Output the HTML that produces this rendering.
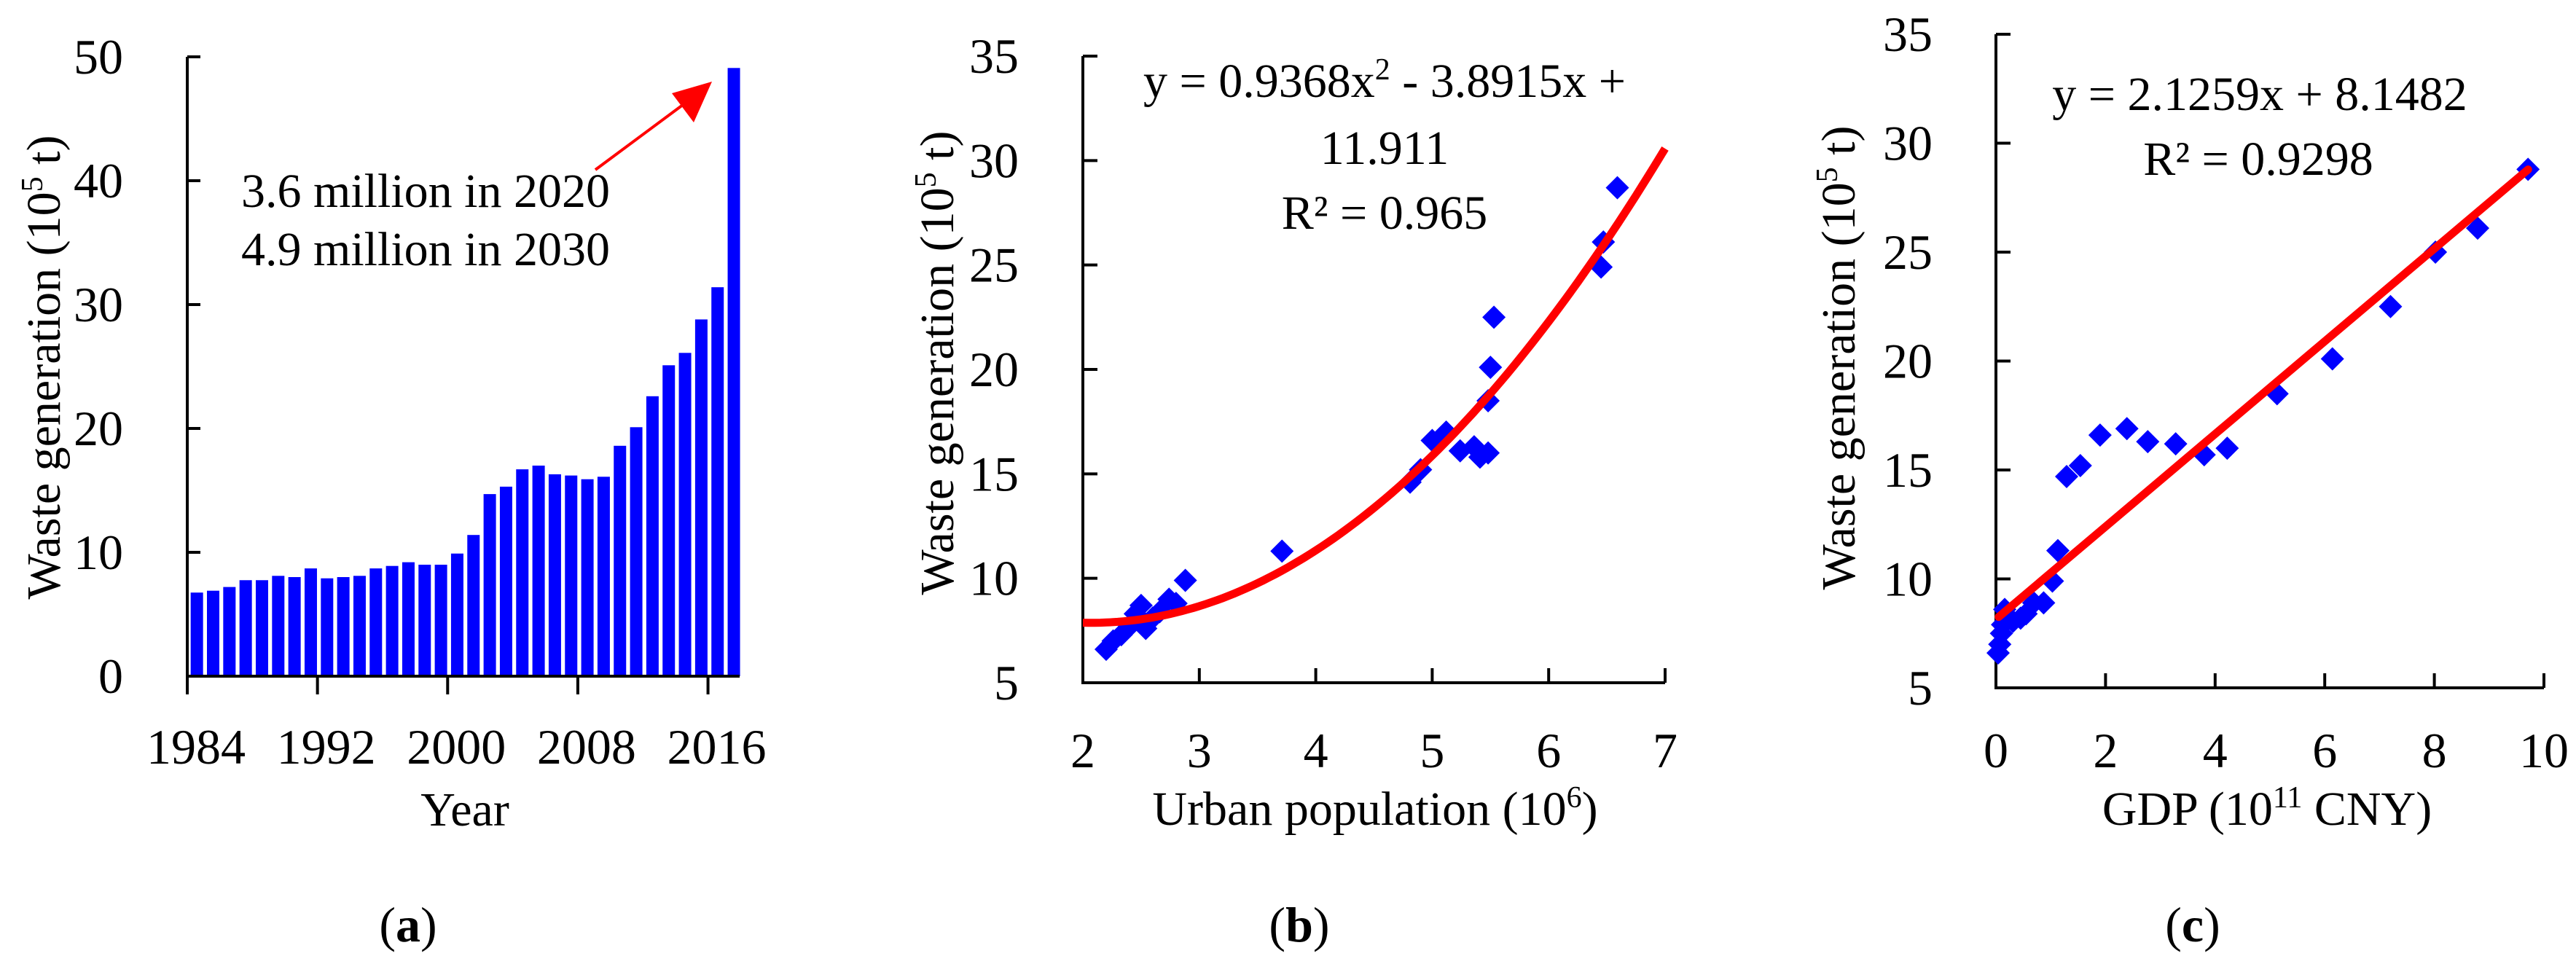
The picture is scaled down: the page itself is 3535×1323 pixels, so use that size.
<!DOCTYPE html>
<html><head><meta charset="utf-8"><style>
html,body{margin:0;padding:0;background:#fff;}
svg{display:block;}
text,tspan{font-family:"Liberation Serif","DejaVu Serif",serif;}
</style></head><body>
<svg id="fig" width="3535" height="1323" viewBox="0 0 3535 1323" xmlns="http://www.w3.org/2000/svg" font-family="Liberation Serif, DejaVu Serif, serif">
<g id="pa"></g>
<g id="pb"></g>
<g id="pc"></g>
<g font-family="Liberation Serif, DejaVu Serif, serif">
<text transform="translate(82,504) rotate(-90)" text-anchor="middle" font-size="66">Waste generation (10<tspan font-size="42" dy="-24">5</tspan><tspan dy="24"> t)</tspan></text>
<text x="331" y="284" font-size="66">3.6 million in 2020</text>
<text x="331" y="364" font-size="66">4.9 million in 2030</text>
<line x1="817" y1="233" x2="945" y2="138" stroke="#ff0000" stroke-width="4"/>
<path d="M977,112 L922,128 L952,168 Z" fill="#ff0000"/>
<text x="638" y="1133" text-anchor="middle" font-size="66">Year</text>
<text x="560" y="1292" text-anchor="middle" font-size="68">(<tspan font-weight="bold">a</tspan>)</text>
<text transform="translate(1308,498) rotate(-90)" text-anchor="middle" font-size="66">Waste generation (10<tspan font-size="42" dy="-24">5</tspan><tspan dy="24"> t)</tspan></text>
<text x="1900" y="133" text-anchor="middle" font-size="66">y = 0.9368x<tspan font-size="42" dy="-24">2</tspan><tspan dy="24"> - 3.8915x +</tspan></text>
<text x="1900" y="225" text-anchor="middle" font-size="66">11.911</text>
<text x="1900" y="314" text-anchor="middle" font-size="66">R² = 0.965</text>
<text x="1887" y="1132" text-anchor="middle" font-size="66">Urban population (10<tspan font-size="42" dy="-24">6</tspan><tspan dy="24">)</tspan></text>
<text x="1783" y="1292" text-anchor="middle" font-size="68">(<tspan font-weight="bold">b</tspan>)</text>
<text transform="translate(2545,491) rotate(-90)" text-anchor="middle" font-size="66">Waste generation (10<tspan font-size="42" dy="-24">5</tspan><tspan dy="24"> t)</tspan></text>
<text x="3101" y="151" text-anchor="middle" font-size="66">y = 2.1259x + 8.1482</text>
<text x="3099" y="240" text-anchor="middle" font-size="66">R² = 0.9298</text>
<text x="3111" y="1132" text-anchor="middle" font-size="66">GDP (10<tspan font-size="42" dy="-24">11</tspan><tspan dy="24"> CNY)</tspan></text>
<text x="3009" y="1292" text-anchor="middle" font-size="68">(<tspan font-weight="bold">c</tspan>)</text>
</g>
</svg>
<script>
// Panel (a) data
const yearsA = [1984,1985,1986,1987,1988,1989,1990,1991,1992,1993,1994,1995,1996,1997,1998,1999,2000,2001,2002,2003,2004,2005,2006,2007,2008,2009,2010,2011,2012,2013,2014,2015,2016,2030];
const wasteA = [6.75,6.9,7.2,7.75,7.75,8.1,8.0,8.7,7.9,8.0,8.1,8.7,8.9,9.2,9.0,9.0,9.9,11.4,14.7,15.3,16.7,17.0,16.3,16.2,15.9,16.1,18.6,20.1,22.6,25.1,26.1,28.8,31.4,49.1];
const ticksA_x = ["1984","1992","2000","2008","2016"];
const ticksA_y = [0,10,20,30,40,50];
// Panel (b) data
const popB = [2.2,2.26,2.33,2.4,2.45,2.5,2.52,2.54,2.6,2.66,2.74,2.8,2.88,3.71,4.81,4.9,5.0,5.12,5.24,5.36,5.41,5.48,5.48,5.5,5.53,6.45,6.47,6.59];
const wasteB = [6.6,7.0,7.3,7.7,8.3,8.7,7.8,7.6,8.1,8.4,9.0,8.8,9.9,11.3,14.6,15.2,16.6,17.0,16.1,16.3,15.8,16.0,18.5,20.1,22.5,24.9,26.1,28.7];
const coefB = [0.9368,-3.8915,11.911];
const ticksB_x = [2,3,4,5,6,7];
const ticksB_y = [5,10,15,20,25,30,35];
// Panel (c) data
const gdpC = [0.04,0.07,0.1,0.12,0.16,0.31,0.45,0.55,0.69,0.87,1.03,1.13,1.29,1.54,1.9,2.39,2.77,3.28,3.8,4.22,5.13,6.14,7.2,8.02,8.79,9.71];
const wasteC = [6.6,7.0,7.5,7.9,8.6,8.05,8.2,8.4,8.9,8.9,9.9,11.3,14.7,15.2,16.6,16.9,16.3,16.2,15.7,16.0,18.5,20.1,22.5,25.0,26.1,28.8];
const coefC = [2.1259,8.1482];
const ticksC_x = [0,2,4,6,8,10];
const ticksC_y = [5,10,15,20,25,30,35];

const NS="http://www.w3.org/2000/svg";
function mk(parent,tag,attrs,text){const e=document.createElementNS(NS,tag);for(const k in attrs)e.setAttribute(k,attrs[k]);if(text!==undefined)e.textContent=text;parent.appendChild(e);return e;}
const FS=68, FF="Liberation Serif, DejaVu Serif, serif";

// ---------- Panel A ----------
(function(){
const g=document.getElementById('pa');
const x0=257,x1=1015,yb=928,yt=78,step=22.33;
const sy=v=>yb-(v-0)/(50-0)*(yb-yt);
wasteA.forEach((v,i)=>{
  const cx=x0+(i+0.5)*step+2;
  const r=mk(g,'rect',{x:cx-8.5,y:sy(v),width:17,height:yb-sy(v),fill:'#0000ff'});
  
  
});
const ax=mk(g,'path',{d:`M${x0},${yt} V${yb} H${x1}`,stroke:'#000','stroke-width':4,fill:'none'});


ticksA_y.forEach(v=>{
  mk(g,'line',{x1:x0,x2:x0+18,y1:sy(v),y2:sy(v),stroke:'#000','stroke-width':4});
  const t=mk(g,'text',{x:169,y:sy(v)+23,'text-anchor':'end','font-size':FS,'font-family':FF},String(v));
  
  
});
ticksA_x.forEach(lbl=>{
  const xi=x0+(parseInt(lbl)-1984)*step;
  mk(g,'line',{x1:xi,x2:xi,y1:yb,y2:953,stroke:'#000','stroke-width':4});
  const t=mk(g,'text',{x:xi+12,y:1048,'text-anchor':'middle','font-size':FS,'font-family':FF},lbl);
  
  
});
})();

// ---------- Panel B ----------
(function(){
const g=document.getElementById('pb');
const x0=1486,x1=2285,yb=937,yt=77;
const sx=v=>x0+(v-2)/(7-2)*(x1-x0);
const sy=v=>yb-(v-5)/(35-5)*(yb-yt);
const ax=mk(g,'path',{d:`M${x0},${yt} V${yb} H${x1}`,stroke:'#000','stroke-width':4,fill:'none'});


ticksB_y.forEach(v=>{
  mk(g,'line',{x1:x0,x2:x0+20,y1:sy(v),y2:sy(v),stroke:'#000','stroke-width':4});
  const t=mk(g,'text',{x:1398,y:sy(v)+23,'text-anchor':'end','font-size':FS,'font-family':FF},String(v));
  
  
});
ticksB_x.forEach(v=>{
  mk(g,'line',{x1:sx(v),x2:sx(v),y1:yb,y2:yb-20,stroke:'#000','stroke-width':4});
  const t=mk(g,'text',{x:sx(v),y:1053,'text-anchor':'middle','font-size':FS,'font-family':FF},String(v));
  
  
});
popB.forEach((p,i)=>{
  const cx=sx(p),cy=sy(wasteB[i]),r=16;
  const d=mk(g,'path',{d:`M${cx},${cy-r} L${cx+r},${cy} L${cx},${cy+r} L${cx-r},${cy} Z`,fill:'#0000ff'});
  
  
});
let pts=[];for(let k=0;k<=100;k++){const x=2+5*k/100;const y=coefB[0]*x*x+coefB[1]*x+coefB[2];pts.push(sx(x).toFixed(1)+','+sy(y).toFixed(1));}
const c=mk(g,'polyline',{points:pts.join(' '),stroke:'#ff0000','stroke-width':11,fill:'none'});


})();

// ---------- Panel C ----------
(function(){
const g=document.getElementById('pc');
const x0=2739,x1=3491,yb=944,yt=47;
const sx=v=>x0+(v-0)/(10-0)*(x1-x0);
const sy=v=>yb-(v-5)/(35-5)*(yb-yt);
const ax=mk(g,'path',{d:`M${x0},${yt} V${yb} H${x1}`,stroke:'#000','stroke-width':4,fill:'none'});


ticksC_y.forEach(v=>{
  mk(g,'line',{x1:x0,x2:x0+20,y1:sy(v),y2:sy(v),stroke:'#000','stroke-width':4});
  const t=mk(g,'text',{x:2652,y:sy(v)+23,'text-anchor':'end','font-size':FS,'font-family':FF},String(v));
  
  
});
ticksC_x.forEach(v=>{
  mk(g,'line',{x1:sx(v),x2:sx(v),y1:yb,y2:yb-20,stroke:'#000','stroke-width':4});
  const t=mk(g,'text',{x:sx(v),y:1053,'text-anchor':'middle','font-size':FS,'font-family':FF},String(v));
  
  
});
gdpC.forEach((p,i)=>{
  const cx=sx(p),cy=sy(wasteC[i]),r=16;
  const d=mk(g,'path',{d:`M${cx},${cy-r} L${cx+r},${cy} L${cx},${cy+r} L${cx-r},${cy} Z`,fill:'#0000ff'});
  
  
});
const xe=gdpC[gdpC.length-1];
const l=mk(g,'line',{x1:sx(0.05),y1:sy(coefC[0]*0.05+coefC[1]),x2:sx(xe),y2:sy(coefC[0]*xe+coefC[1]),stroke:'#ff0000','stroke-width':11,'stroke-linecap':'round'});


})();
</script>
</body></html>
